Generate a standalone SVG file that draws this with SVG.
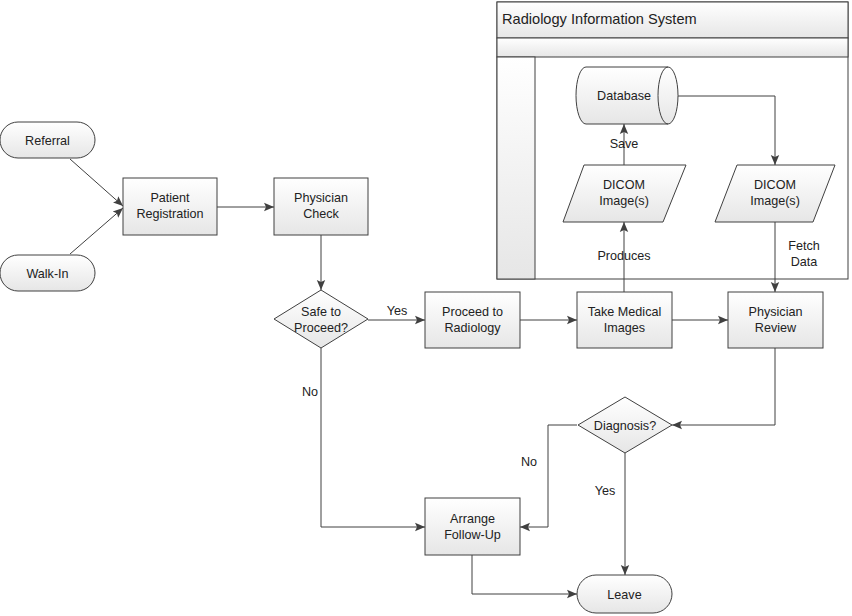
<svg xmlns="http://www.w3.org/2000/svg" width="852" height="616" viewBox="0 0 852 616">
<style>
.n{fill:url(#g);stroke:#404040;stroke-width:1}
.t{font-family:"Liberation Sans",Arial,sans-serif;font-size:12.6px;fill:#222;text-anchor:middle}
.l{font-family:"Liberation Sans",Arial,sans-serif;font-size:12.6px;fill:#222;text-anchor:middle}
.c{fill:none;stroke:#404040;stroke-width:1}
.a{marker-end:url(#ah)}
</style>
<defs>
<linearGradient id="g" x1="0" y1="0" x2="0" y2="1">
<stop offset="0" stop-color="#ffffff"/>
<stop offset="1" stop-color="#e6e6e6"/>
</linearGradient>
<marker id="ah" viewBox="0 0 10 10" refX="10" refY="5" markerWidth="10" markerHeight="10" markerUnits="userSpaceOnUse" orient="auto">
<path d="M0,0.8 L10,5 L0,9.2 L2,5 z" fill="#404040"/>
</marker>
</defs>
<rect width="852" height="616" fill="#ffffff"/>
<g id="ris">
<rect x="497" y="2" width="351" height="277" fill="#ffffff" stroke="#404040"/>
<rect x="497" y="2" width="351" height="36" class="n"/>
<rect x="497" y="38" width="351" height="19" class="n"/>
<rect x="497" y="57" width="38" height="222" class="n"/>
<text x="502" y="24" font-family="'Liberation Sans',Arial,sans-serif" font-size="14.6" fill="#222">Radiology Information System</text>
</g>
<g id="connectors">
<path class="c a" d="M70,159 L123,206"/>
<path class="c a" d="M70,254 L123,208"/>
<path class="c a" d="M217,207 L274,207"/>
<path class="c a" d="M321,235 L321,290"/>
<path class="c a" d="M368,320 L425,320"/>
<path class="c a" d="M520,320 L577,320"/>
<path class="c a" d="M672,320 L728,320"/>
<path class="c a" d="M624,292 L624,222"/>
<path class="c a" d="M624,165 L624,124"/>
<path class="c a" d="M678,96 L775,96 L775,165"/>
<path class="c a" d="M775,222 L775,292"/>
<path class="c a" d="M775,348 L775,425 L672,425"/>
<path class="c a" d="M577,425 L548,425 L548,527 L520,527"/>
<path class="c a" d="M625,453 L625,575"/>
<path class="c a" d="M321,348 L321,527 L425,527"/>
<path class="c a" d="M472,555 L472,594 L577,594"/>
<text class="l" x="397" y="315">Yes</text>
<text class="l" x="310" y="396">No</text>
<text class="l" x="624" y="260">Produces</text>
<text class="l" x="624" y="148">Save</text>
<text class="l" x="804" y="250">Fetch</text>
<text class="l" x="804" y="266">Data</text>
<text class="l" x="529" y="466">No</text>
<text class="l" x="605" y="495">Yes</text>
</g>
<g id="referral"><rect x="0" y="122" width="95" height="36" rx="18" class="n"/><text class="t" x="47.5" y="144.5">Referral</text></g>
<g id="walkin"><rect x="0" y="255" width="95" height="36" rx="18" class="n"/><text class="t" x="47.5" y="277.5">Walk-In</text></g>
<g id="registration"><rect x="123" y="178" width="94" height="57" class="n"/><text class="t" x="170" y="202">Patient</text><text class="t" x="170" y="218">Registration</text></g>
<g id="check"><rect x="274" y="178" width="94" height="57" class="n"/><text class="t" x="321" y="202">Physician</text><text class="t" x="321" y="218">Check</text></g>
<g id="safe"><path d="M321,290 L368,319 L321,348 L274,319 z" class="n"/><text class="t" x="321" y="316">Safe to</text><text class="t" x="321" y="332">Proceed?</text></g>
<g id="proceed"><rect x="425" y="292" width="95" height="56" class="n"/><text class="t" x="472.5" y="316">Proceed to</text><text class="t" x="472.5" y="332">Radiology</text></g>
<g id="take"><rect x="577" y="292" width="95" height="56" class="n"/><text class="t" x="624.5" y="316">Take Medical</text><text class="t" x="624.5" y="332">Images</text></g>
<g id="review"><rect x="728" y="292" width="95" height="56" class="n"/><text class="t" x="775.5" y="316">Physician</text><text class="t" x="775.5" y="332">Review</text></g>
<g id="dicom1"><path d="M584,165 L686,165 L663,222 L563,222 z" class="n"/><text class="t" x="624" y="189">DICOM</text><text class="t" x="624" y="205">Image(s)</text></g>
<g id="dicom2"><path d="M737,165 L835,165 L813,222 L715,222 z" class="n"/><text class="t" x="775" y="189">DICOM</text><text class="t" x="775" y="205">Image(s)</text></g>
<g id="database"><path d="M586,67 L668,67 A10,28.5 0 0 1 668,124 L586,124 A10,28.5 0 0 1 586,67 z" class="n"/><path d="M668,67 A10,28.5 0 0 0 668,124" fill="none" stroke="#404040"/><text class="t" x="624" y="99.5">Database</text></g>
<g id="diagnosis"><path d="M625,397 L672,425 L625,453 L578,425 z" class="n"/><text class="t" x="625" y="429.5">Diagnosis?</text></g>
<g id="followup"><rect x="425" y="498" width="95" height="57" class="n"/><text class="t" x="472.5" y="523">Arrange</text><text class="t" x="472.5" y="539">Follow-Up</text></g>
<g id="leave"><rect x="577" y="575" width="95" height="38" rx="19" class="n"/><text class="t" x="624.5" y="598.5">Leave</text></g>
</svg>
